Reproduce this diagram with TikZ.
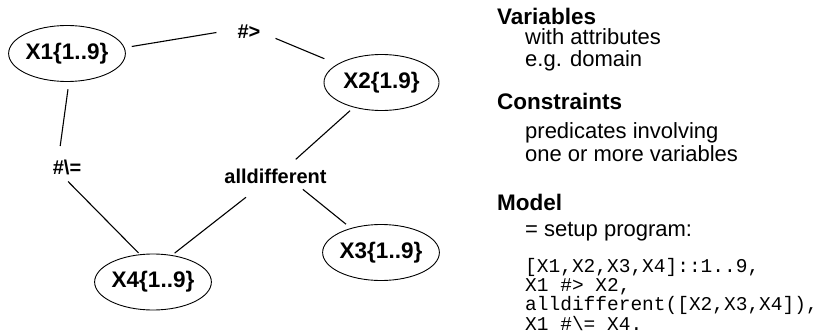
\documentclass[tikz,border=0pt]{standalone}
\usepackage{fontspec}
\setmainfont{Liberation Sans}
\setmonofont{Liberation Mono}
\usetikzlibrary{shapes.geometric,calc}
\begin{document}
\begin{tikzpicture}[x=1pt,y=-1pt,
  vnode/.style={ellipse,draw,line width=0.9pt,inner sep=0pt,minimum width=115pt,minimum height=56pt,font=\fontsize{22.5}{27}\selectfont\bfseries},
  lab/.style={inner sep=0pt,anchor=base,font=\fontsize{20}{24}\selectfont\bfseries},
  link/.style={line width=1.1pt},
  head/.style={inner sep=0pt,anchor=base west,font=\fontsize{22.5}{27}\selectfont\bfseries},
  body/.style={inner sep=0pt,anchor=base west,font=\fontsize{22}{26}\selectfont},
  code/.style={inner sep=0pt,anchor=base west,font=\fontsize{19.5}{23}\selectfont\ttfamily}]
\useasboundingbox (0,0) rectangle (821,334);

% variable nodes
\node[vnode] (X1) at (67,53.5) {X1\{1..9\}};
\node[vnode] (X2) at (381.5,82.5) {X2\{1.9\}};
\node[vnode] (X3) at (381,252.5) {X3\{1..9\}};
\node[vnode] (X4) at (153,282) {X4\{1..9\}};

% constraint labels
\node[lab] (gt) at (249,39) {\#>};
\node[lab] (ne) at (67,174) {\#\textbackslash=};
\node[lab] (ad) at (275.5,183) {alldifferent};

% connectors
\coordinate (l1a) at ($(X1)!0.13!(X1.south)$);
\coordinate (l1b) at ($(gt.west)!0.45!(gt.north west)$);
\draw[link] ($(l1a)!0.38!(l1b)$) -- ($(l1a)!0.877!(l1b)$);

\draw[link] ($(gt.east)!0.123!(X2)$) -- ($(gt.east)!0.527!(X2)$);

\coordinate (l3a) at ($(X1)!0.1!(X1.east)$);
\coordinate (l3b) at ($(ne.north)!0.6!(ne.north west)$);
\draw[link] ($(l3a)!0.338!(l3b)$) -- ($(l3a)!0.874!(l3b)$);

\coordinate (l4a) at ($(ne.south)!0.4!(ne.south west)$);
\coordinate (l4b) at ($(X4)!0.24!(X4.east)$);
\draw[link] ($(l4a)!0.065!(l4b)$) -- ($(l4a)!0.729!(l4b)$);

\coordinate (l5b) at ($(ad.north)!0.2!(ad.north east)$);
\draw[link] ($(X2)!0.329!(l5b)$) -- ($(X2)!0.896!(l5b)$);

\coordinate (l6a) at ($(ad.south)!0.23!(ad.south west)$);
\coordinate (l6b) at ($(X4)!0.26!(X4.west)$);
\draw[link] ($(l6a)!0.141!(l6b)$) -- ($(l6a)!0.707!(l6b)$);

\coordinate (l7a) at ($(ad.south)!0.39!(ad.south east)$);
\draw[link] ($(l7a)!0.086!(X3)$) -- ($(l7a)!0.59!(X3)$);

% legend text
\node[head] (hv) at (497,25) {Variables};
\node[body] (t1) at (525,45) {with attributes};
\node[body] (t2) at (525,66.5) {e.g. domain};
\node[head] (hc) at (497,110) {Constraints};
\node[body] (t3) at (525,138) {predicates involving};
\node[body] (t4) at (525,161.5) {one or more variables};
\node[head] (hm) at (497,210) {Model};
\node[body] (t5) at (525,236) {= setup program:};
\node[code] (c1) at (525,272) {[X1,X2,X3,X4]::1..9,};
\node[code] (c2) at (525,291) {X1 \#> X2,};
\node[code] (c3) at (525,310.5) {alldifferent([X2,X3,X4]),};
\node[code] (c4) at (525,330) {X1 \#\textbackslash= X4.};
\end{tikzpicture}
\end{document}
